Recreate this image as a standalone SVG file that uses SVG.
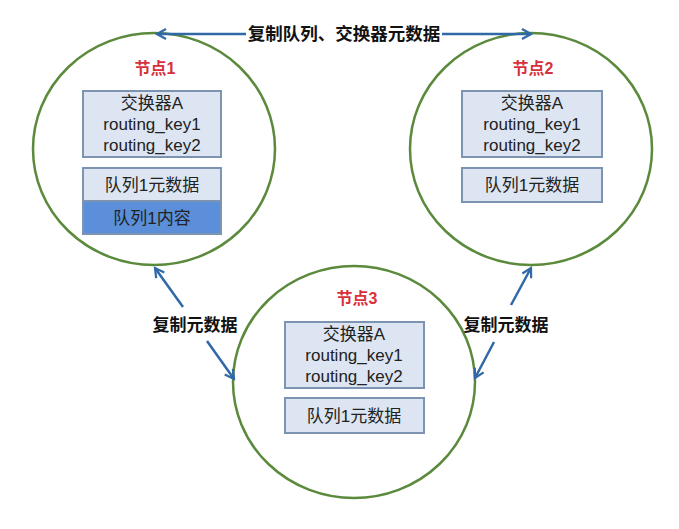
<svg xmlns="http://www.w3.org/2000/svg" width="679" height="529" viewBox="0 0 679 529">
<defs>
<style>
.circ{fill:#fff;stroke:#5b8a3c;stroke-width:2.5}
.box{fill:#dce5f1;stroke:#7d93b2;stroke-width:2}
.boxd{fill:#5b8fd9;stroke:#7d93b2;stroke-width:2}
.t{font-family:"Liberation Sans","Noto Sans CJK SC",sans-serif;font-size:17px;fill:#222;text-anchor:middle}
.nl{font-family:"Liberation Sans","Noto Sans CJK SC",sans-serif;font-size:16px;font-weight:bold;fill:#d8303a;text-anchor:middle}
.el{font-family:"Liberation Sans","Noto Sans CJK SC",sans-serif;font-size:17px;font-weight:bold;fill:#111;text-anchor:middle}
.ln{stroke:#3068a8;stroke-width:2.5;fill:none}
</style>
<marker id="ah" viewBox="0 0 12 12" refX="10" refY="6" markerWidth="12" markerHeight="12" markerUnits="userSpaceOnUse" orient="auto-start-reverse">
<path d="M1,1 L10,6 L1,11" fill="none" stroke="#3068a8" stroke-width="2.2"/>
</marker>
</defs>
<rect width="679" height="529" fill="#fff"/>
<g id="node1">
<ellipse class="circ" cx="154" cy="149" rx="121" ry="116"/>
<text class="nl" x="155" y="74">节点1</text>
<rect class="box" x="83" y="91" width="138" height="66"/>
<text class="t" x="152" y="109">交换器A</text>
<text class="t" x="152" y="130">routing_key1</text>
<text class="t" x="152" y="151">routing_key2</text>
<rect class="box" x="83" y="168" width="138" height="33"/>
<text class="t" x="152" y="191">队列1元数据</text>
<rect class="boxd" x="83" y="201" width="138" height="33"/>
<text class="t" x="152" y="224">队列1内容</text>
</g>
<g id="node2">
<ellipse class="circ" cx="531" cy="149" rx="121" ry="116"/>
<text class="nl" x="533" y="74">节点2</text>
<rect class="box" x="462" y="91" width="140" height="66"/>
<text class="t" x="532" y="109">交换器A</text>
<text class="t" x="532" y="130">routing_key1</text>
<text class="t" x="532" y="151">routing_key2</text>
<rect class="box" x="462" y="168" width="140" height="34"/>
<text class="t" x="532" y="191">队列1元数据</text>
</g>
<g id="node3">
<ellipse class="circ" cx="354" cy="382" rx="121" ry="116"/>
<text class="nl" x="357" y="304">节点3</text>
<rect class="box" x="285" y="322" width="139" height="66"/>
<text class="t" x="354" y="340">交换器A</text>
<text class="t" x="354" y="361">routing_key1</text>
<text class="t" x="354" y="382">routing_key2</text>
<rect class="box" x="285" y="398" width="139" height="35"/>
<text class="t" x="354" y="422">队列1元数据</text>
</g>
<g id="connectors">
<line class="ln" x1="246" y1="34" x2="157" y2="34" marker-end="url(#ah)"/>
<line class="ln" x1="442" y1="34" x2="531" y2="34" marker-end="url(#ah)"/>
<text class="el" x="344" y="40" style="font-size:17.5px">复制队列、交换器元数据</text>
<line class="ln" x1="183" y1="307" x2="155" y2="268" marker-end="url(#ah)"/>
<line class="ln" x1="207" y1="341" x2="234" y2="379" marker-end="url(#ah)"/>
<text class="el" x="195" y="331">复制元数据</text>
<line class="ln" x1="511" y1="305" x2="531" y2="268" marker-end="url(#ah)"/>
<line class="ln" x1="494" y1="342" x2="475" y2="378" marker-end="url(#ah)"/>
<text class="el" x="506" y="331">复制元数据</text>
</g>
</svg>
